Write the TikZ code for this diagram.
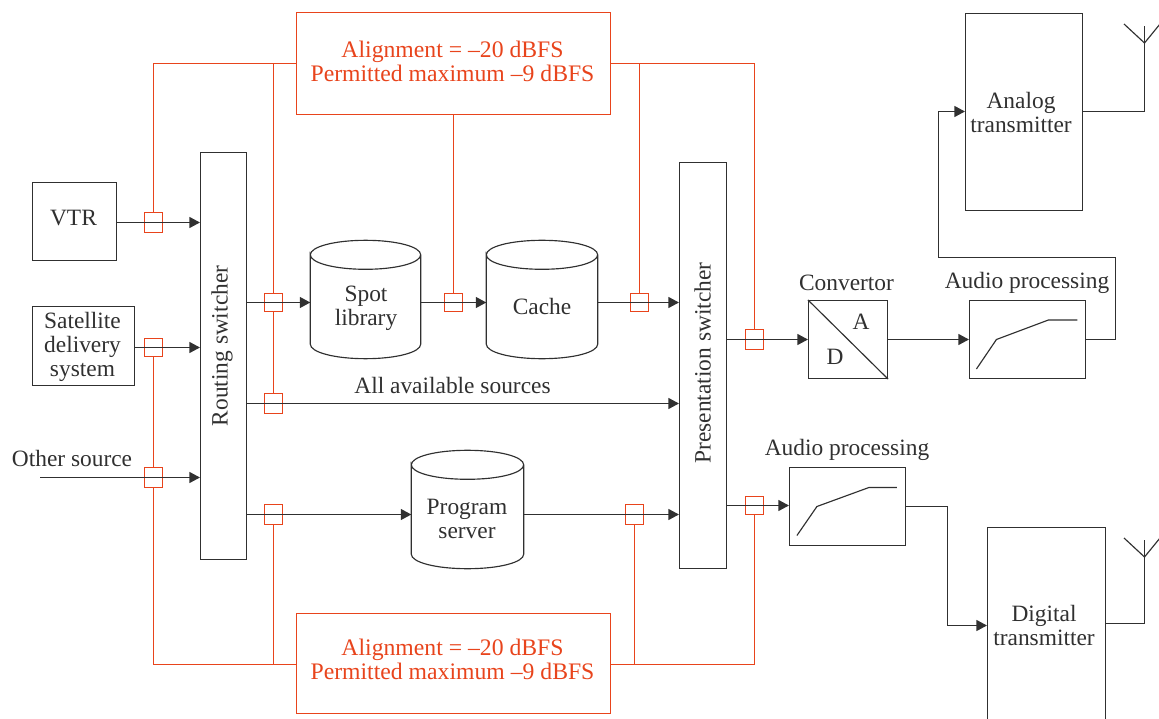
\documentclass[tikz,border=0pt]{standalone}
\usepackage{fontspec}
\setmainfont{Liberation Serif}
\usetikzlibrary{arrows.meta}
\definecolor{ink}{HTML}{303030}
\definecolor{oran}{HTML}{E8441C}
\tikzset{
  x=1pt,y=-1pt,
  every node/.style={font=\fontsize{23.4}{24}\selectfont,text=ink,inner sep=0pt,align=center},
  box/.style={draw=ink,line width=1.15pt,rectangle},
  obox/.style={draw=oran,line width=1.25pt,rectangle},
  olab/.style={text=oran,font=\fontsize{23.7}{24}\selectfont},
  tap/.style={draw=oran,line width=1.25pt,rectangle,minimum width=18pt,minimum height=18pt},
  wire/.style={draw=ink,line width=1.15pt},
  arr/.style={wire,-{Triangle[length=10.5pt,width=11pt]}},
  owire/.style={draw=oran,line width=1.2pt},
  drum/.style={rectangle,minimum height=118pt},
}
\newcommand{\drumshape}[1]{%
  \draw[wire] ([shift={(0,14.5)}]#1.north west)
    .. controls ([shift={(0,6.5)}]#1.north west) and ([shift={(24,0)}]#1.north west) .. (#1.north)
    .. controls ([shift={(-24,0)}]#1.north east) and ([shift={(0,6.5)}]#1.north east) .. ([shift={(0,14.5)}]#1.north east)
    .. controls ([shift={(0,22.5)}]#1.north east) and ([shift={(-24,29)}]#1.north east) .. ([shift={(0,29)}]#1.north)
    .. controls ([shift={(24,29)}]#1.north west) and ([shift={(0,22.5)}]#1.north west) .. ([shift={(0,14.5)}]#1.north west)
    -- ([shift={(0,-14.5)}]#1.south west)
    .. controls ([shift={(0,-6.5)}]#1.south west) and ([shift={(24,0)}]#1.south west) .. (#1.south)
    .. controls ([shift={(-24,0)}]#1.south east) and ([shift={(0,-6.5)}]#1.south east) .. ([shift={(0,-14.5)}]#1.south east)
    -- ([shift={(0,14.5)}]#1.north east);}
\begin{document}
\begin{tikzpicture}
\useasboundingbox (0,0) rectangle (1159,719);
% boxes
\node[obox,minimum width=314pt,minimum height=102pt] (topbox) at (453.5,63.5) {};
\node[obox,minimum width=314pt,minimum height=100pt] (botbox) at (453.5,663.5) {};
\node[olab] (toplab) at (452.5,61) {Alignment = –20 dBFS\\Permitted maximum –9 dBFS};
\node[olab] (botlab) at (452.5,659.5) {Alignment = –20 dBFS\\Permitted maximum –9 dBFS};
\node[box,minimum width=84pt,minimum height=78pt] (vtr) at (74.5,221.5) {};
\node (vtrlab) at (73.5,218) {VTR};
\node[box,minimum width=102pt,minimum height=79pt] (sat) at (83.5,346) {};
\node (satlab) at (82.5,347) {Satellite\\delivery\\system};
\node[box,minimum width=46pt,minimum height=407pt] (rout) at (223.5,356) {};
\node[box,minimum width=47pt,minimum height=406pt] (pres) at (703,365.5) {};
\node[rotate=90] (routlab) at (222,346) {Routing switcher};
\node[rotate=90] (preslab) at (702.5,363) {Presentation switcher};
% drums
\node[drum,minimum width=110pt] (spot) at (365.5,299.5) {};
\node[drum,minimum width=111pt] (cache) at (542,299.5) {};
\node[drum,minimum width=112pt] (server) at (467.5,509.5) {};
\drumshape{spot}
\drumshape{cache}
\drumshape{server}
\node (spotlab) at (366,308.5) {Spot\\library};
\node (cachelab) at (542,306) {Cache};
\node (serverlab) at (467,519) {Program\\server};
% right-hand boxes
\node[box,minimum width=79pt,minimum height=78pt] (conv) at (848,339.5) {};
\node[box,minimum width=116pt,minimum height=78pt] (aud1) at (1027.5,339.5) {};
\node[box,minimum width=116pt,minimum height=78pt] (aud2) at (847.5,506.5) {};
\node[box,minimum width=117pt,minimum height=197pt] (analog) at (1024,112) {};
\node (analoglab) at (1021,112) {Analog\\transmitter};
\node[box,minimum width=118pt,minimum height=230pt] (digital) at (1046.5,642.5) {};
\node (digitallab) at (1044,625) {Digital\\transmitter};
% free labels
\node (othlab) at (72,458) {Other source};
\node (avail) at (452.5,385) {All available sources};
\node (convlab) at (846.5,283) {Convertor};
\node (aud1lab) at (1027,283) {Audio processing};
\node (aud2lab) at (847,450) {Audio processing};
\node (alab) at (861,322) {A};
\node (dlab) at (835,357) {D};
% taps
\node[tap,minimum height=20pt] (tV) at (153.5,222.5) {};
\node[tap] (tS) at (153.5,347.5) {};
\node[tap,minimum height=20pt] (tO) at (153.5,477.5) {};
\node[tap] (tR1) at (273.5,302.5) {};
\node[tap,minimum height=20pt] (tR2) at (273.5,403.5) {};
\node[tap,minimum height=20pt] (tR3) at (273.5,514.5) {};
\node[tap] (tC1) at (453.5,302.5) {};
\node[tap] (tC2) at (639.5,302.5) {};
\node[tap,minimum height=20pt] (tP1) at (634.5,514.5) {};
\node[tap,minimum height=20pt] (tA) at (754.5,339.5) {};
\node[tap] (tD) at (754.5,505.5) {};
% free-end coordinates
\coordinate (othstart) at (40,477.5);
\coordinate (antA) at (1144.5,111.5);
\coordinate (antAtop) at (1144.5,26);
\coordinate (antAv) at (1144.5,43);
\coordinate (antAl) at (1124,24);
\coordinate (antAr) at (1160,24);
\coordinate (antD) at (1144.5,623.5);
\coordinate (antDtop) at (1144.5,540);
\coordinate (antDv) at (1144.5,557);
\coordinate (antDl) at (1124,538);
\coordinate (antDr) at (1160,538);
\coordinate (loopR) at (1115.5,339.5);
\coordinate (loopT) at (1115.5,257.5);
\coordinate (loopL) at (938.5,257.5);
\coordinate (loopE) at (938.5,111.5);
\coordinate (digM) at (947.5,506.5);
\coordinate (digE) at (947.5,625.5);
\coordinate (oTL) at (153.5,63.5);
\coordinate (oTR) at (754.5,63.5);
\coordinate (oBL) at (153.5,664.5);
\coordinate (oBR) at (754.5,664.5);
% signal connectors
\draw[arr] (vtr.east |- tV) -- (rout.west |- tV);
\draw[arr] (sat.east |- tS) -- (rout.west |- tS);
\draw[arr] (othstart) -- (rout.west |- tO);
\draw[arr] (rout.east |- tR1) -- (spot.west |- tR1);
\draw[arr] (spot.east |- tC1) -- (cache.west |- tC1);
\draw[arr] (cache.east |- tC2) -- (pres.west |- tC2);
\draw[arr] (rout.east |- tR2) -- (pres.west |- tR2);
\draw[arr] (rout.east |- tR3) -- (server.west |- tR3);
\draw[arr] (server.east |- tP1) -- (pres.west |- tP1);
\draw[arr] (pres.east |- tA) -- (conv.west |- tA);
\draw[arr] (conv.east) -- (aud1.west);
\draw[arr] (pres.east |- tD) -- (aud2.west |- tD);
\draw[arr] (aud1.east) -- (loopR) -- (loopT) -- (loopL) -- (loopE) -- (analog.west |- loopE);
\draw[arr] (aud2.east) -- (digM) -- (digE) -- (digital.west |- digE);
\draw[wire] (analog.east |- antA) -- (antA) -- (antAtop);
\draw[wire] (antAl) -- (antAv) -- (antAr);
\draw[wire] (digital.east |- antD) -- (antD) -- (antDtop);
\draw[wire] (antDl) -- (antDv) -- (antDr);
% inner graphics
\draw[wire] (conv.north west) -- (conv.south east);
\draw[wire] ([shift={(7.5,29.5)}]aud1.west) -- ([shift={(27.5,0)}]aud1.west) -- ([shift={(79.5,-19.5)}]aud1.west) -- ([shift={(108.5,-19.5)}]aud1.west);
\draw[wire] ([shift={(8,29)}]aud2.west) -- ([shift={(28,0)}]aud2.west) -- ([shift={(80,-19)}]aud2.west) -- ([shift={(108,-19)}]aud2.west);
% level connectors
\draw[owire] (topbox.west |- oTL) -- (oTL) -- (tV.north);
\draw[owire] (tR1.north |- oTL) -- (tR1.north);
\draw[owire] (tR1.south) -- (tR2.north);
\draw[owire] (topbox.south -| tC1) -- (tC1.north);
\draw[owire] (topbox.east |- oTR) -- (oTR) -- (tA.north);
\draw[owire] (tC2.north |- oTR) -- (tC2.north);
\draw[owire] (tS.south) -- (tO.north);
\draw[owire] (botbox.west |- oBL) -- (oBL) -- (tO.south);
\draw[owire] (tR3.south) -- (tR3.south |- oBL);
\draw[owire] (botbox.east |- oBR) -- (oBR) -- (tD.south);
\draw[owire] (tP1.south) -- (tP1.south |- oBR);
\end{tikzpicture}
\end{document}
